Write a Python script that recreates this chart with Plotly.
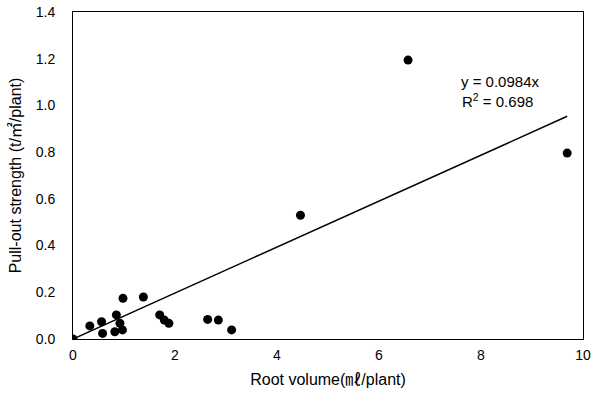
import plotly.graph_objects as go

root_volume = [0.0, 0.33, 0.56, 0.58, 0.82, 0.85, 0.92, 0.97, 0.98, 1.38, 1.70, 1.79, 1.88, 2.64, 2.85, 3.11, 4.46, 6.57, 9.69]
pull_out = [0.0, 0.056, 0.074, 0.024, 0.031, 0.103, 0.067, 0.039, 0.174, 0.18, 0.103, 0.081, 0.067, 0.084, 0.081, 0.039, 0.53, 1.194, 0.796]
slope = 0.0984
trend_x = [0.0, 9.69]
trend_y = [slope * v for v in trend_x]
x_ticks = [0, 2, 4, 6, 8, 10]
y_ticks = [0.0, 0.2, 0.4, 0.6, 0.8, 1.0, 1.2, 1.4]

L, R, T, B = 73, 583, 12, 339

fig = go.Figure()
fig.add_trace(go.Scatter(x=trend_x, y=trend_y, mode="lines",
                         line=dict(color="black", width=1.5), showlegend=False, hoverinfo="skip"))
fig.add_trace(go.Scatter(x=root_volume, y=pull_out, mode="markers",
                         marker=dict(color="black", size=9), showlegend=False))

font_family = "Liberation Sans, Arial, Noto Sans CJK KR, sans-serif"
fig.update_layout(
    width=592, height=394,
    margin=dict(l=L, r=592 - R, t=T, b=394 - B),
    plot_bgcolor="white", paper_bgcolor="white",
    font=dict(family=font_family, color="black", size=14),
    xaxis=dict(range=[0, 10], tickvals=x_ticks, ticktext=[str(v) for v in x_ticks],
               showgrid=False, zeroline=False, showline=True, linecolor="black", linewidth=1,
               mirror=True, ticks="", tickfont=dict(size=14), ticklabelstandoff=3,
               automargin=False, ticklabeloverflow="allow",
               title=dict(text="Root volume(㎖/plant)", font=dict(size=16), standoff=12)),
    yaxis=dict(range=[0, 1.4], tickvals=y_ticks, ticktext=[f"{v:.1f}" for v in y_ticks],
               showgrid=False, zeroline=False, showline=True, linecolor="black", linewidth=1,
               mirror=True, ticks="", tickfont=dict(size=14), ticklabelstandoff=14,
               automargin=False, ticklabeloverflow="allow",
               title=dict(text="Pull-out strength (t/㎡/plant)", font=dict(size=16), standoff=10)),
)

ann_texts = ["y = 0.0984x", "R<sup>2</sup> = 0.698"]
ann_px = [(500, 81), (497, 100)]
for txt, (px, py) in zip(ann_texts, ann_px):
    fig.add_annotation(x=(px - L) / (R - L) * 10, y=(B - py) / (B - T) * 1.4,
                       xref="x", yref="y", text=txt, showarrow=False,
                       font=dict(size=15, family=font_family))

fig.write_html("out.html", config={"displayModeBar": False},
               post_script="document.body.style.margin='0px';")
